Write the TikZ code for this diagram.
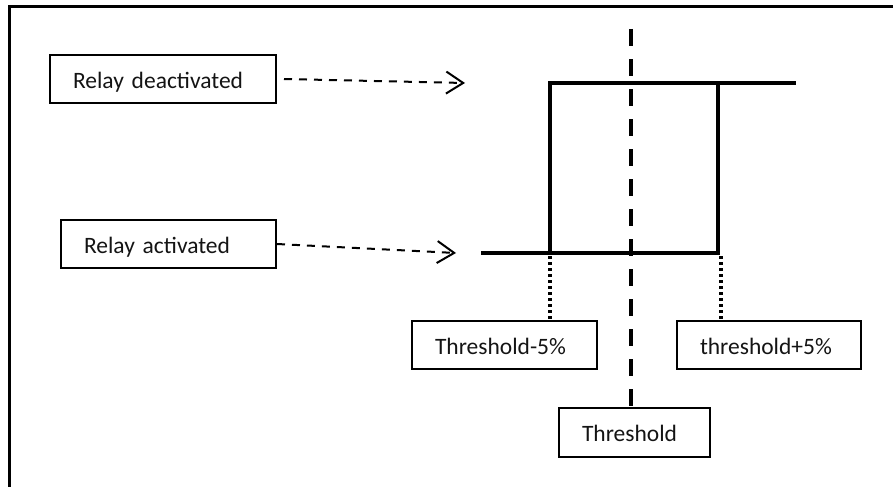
\documentclass[tikz,border=0pt]{standalone}
\usepackage{fontspec}
\setmainfont{Carlito}
\usetikzlibrary{arrows.meta}
\begin{document}
\begin{tikzpicture}[x=1pt,y=-1pt,
  box/.style={draw=black, line width=2pt, minimum height=48pt, inner xsep=23pt, inner ysep=0pt,
    align=left, text height=18pt, text depth=0pt, font=\fontsize{23.5}{26}\selectfont, text=black!92},
  ptr/.style={line width=2pt, dash pattern=on 8pt off 7pt,
    -{Straight Barb[length=17pt,width=22pt,line width=2pt]}},
  curve/.style={line width=4.5pt, line cap=butt, line join=miter},
  thr/.style={line width=4.5pt, dash pattern=on 17pt off 13pt},
  dots/.style={line width=3.5pt, dash pattern=on 3pt off 3pt}]
\useasboundingbox (0,0) rectangle (893,487);
% frame
\draw[line width=3pt] (893,7) -- (9,7) -- (9,487);
% boxes
\node[box, text width=180pt] (rd) at (163,79) {Relay deactivated};
\node[box, text width=169pt] (ra) at (168.5,244) {Relay activated};
\node[box, text width=139pt] (tm) at (504.5,345) {Threshold-5\%};
\node[box, text width=138pt] (tp) at (769,345) {threshold+5\%};
\node[box, text width=105pt, minimum height=49pt] (th) at (634.5,432.5) {Threshold};
% coordinates of the curve
\coordinate (a1) at (465,83);
\coordinate (a2) at (456,253);
\coordinate (b0) at (481,253);
\coordinate (bl) at (550,253);
\coordinate (tl) at (550,83);
\coordinate (tr) at (718,83);
\coordinate (br) at (718,253);
\coordinate (te) at (796,83);
\coordinate (thtop) at (631,29);
\coordinate (dl) at (550,256);
\coordinate (dr) at (721,256);
% arrows
\draw[ptr] ([xshift=7pt]rd.east) -- (a1);
\draw[ptr] (ra.east) -- (a2);
% hysteresis curve
\draw[curve] (b0) -- (br) -- (tr);
\draw[curve] (bl) -- (tl) -- (te);
% threshold
\draw[thr] (thtop) -- (th.north -| thtop);
% dotted
\draw[dots] (dl) -- (dl |- tm.north);
\draw[dots] (dr) -- (dr |- tp.north);
\end{tikzpicture}
\end{document}
